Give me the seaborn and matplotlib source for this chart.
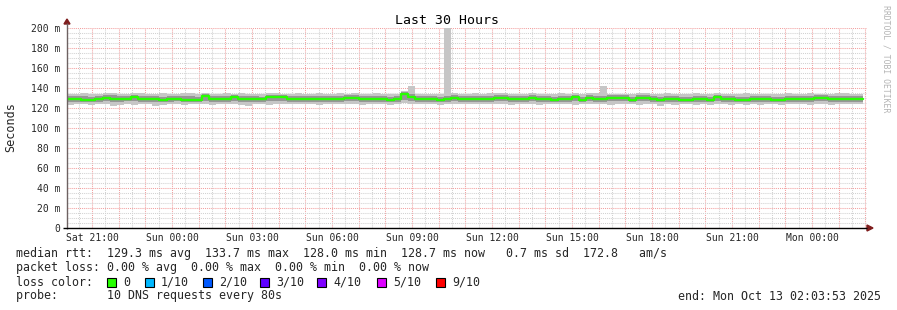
import numpy as np
import pandas as pd
import matplotlib
matplotlib.use("Agg")
import matplotlib.pyplot as plt
import matplotlib.dates as mdates
from matplotlib.ticker import FuncFormatter, MultipleLocator
from matplotlib.patches import Rectangle, Polygon
from datetime import datetime, timedelta
import seaborn as sns

sns.set_style("white")
plt.rcParams["font.family"] = ["DejaVu Sans Mono"]

# ---------------- data ----------------
START = datetime(2025, 10, 11, 20, 3, 53)
END = datetime(2025, 10, 13, 2, 3, 53)
STEP_MIN = 16

median = [
    129.0, 129.0, 128.5, 128.5, 128.8, 130.0, 129.5, 129.5, 129.5, 131.2,
    128.8, 128.8, 128.8, 128.3, 129.5, 129.5, 128.5, 128.5, 128.5, 132.0,
    129.0, 129.0, 129.0, 131.0, 128.8, 128.8, 128.8, 128.8, 131.0, 131.0,
    131.0, 129.5, 129.0, 129.0, 129.0, 129.0, 129.0, 129.0, 129.0, 130.0,
    130.0, 129.5, 129.0, 129.0, 129.0, 128.0, 129.0, 133.7, 131.0, 129.0,
    129.0, 129.0, 128.2, 129.5, 130.5, 129.3, 129.3, 129.3, 129.3, 129.3,
    130.0, 130.0, 129.0, 129.0, 129.0, 130.0, 128.8, 128.8, 128.5, 129.5,
    129.5, 131.0, 128.5, 130.3, 129.0, 129.0, 130.5, 130.5, 130.5, 128.5,
    130.0, 130.0, 129.0, 128.0, 129.0, 129.0, 128.5, 128.5, 129.5, 129.5,
    128.5, 131.0, 129.0, 129.0, 128.5, 128.0, 129.5, 129.5, 129.5, 128.5,
    128.5, 129.0, 129.0, 129.5, 129.5, 130.5, 130.5, 129.5, 129.5, 129.5,
    129.5, 128.7,
]
ping_max = [
    134, 134, 135, 134, 134, 135, 135, 134, 134, 135,
    135, 134, 134, 135, 134, 134, 135, 135, 134, 135,
    134, 134, 135, 134, 135, 134, 134, 134, 135, 135,
    134, 134, 135, 134, 134, 135, 134, 134, 135, 134,
    135, 134, 134, 135, 134, 134, 134, 137, 142, 134,
    134, 134, 134, 205, 135, 134, 134, 135, 134, 135,
    135, 135, 134, 134, 134, 135, 134, 134, 134, 135,
    134, 135, 134, 135, 135, 142, 134, 134, 134, 134,
    135, 135, 134, 134, 135, 134, 134, 134, 135, 134,
    134, 135, 134, 134, 134, 135, 134, 134, 134, 134,
    134, 135, 134, 134, 135, 134, 134, 134, 135, 135,
    134, 134,
]
ping_min = [
    123, 124, 124, 123, 124, 124, 122, 123, 124, 123,
    124, 124, 122, 123, 124, 124, 123, 124, 124, 124,
    123, 124, 124, 124, 123, 122, 124, 124, 123, 124,
    124, 124, 124, 124, 124, 123, 124, 124, 124, 124,
    124, 123, 124, 124, 124, 123, 124, 125, 124, 124,
    124, 124, 123, 124, 124, 124, 124, 124, 124, 124,
    124, 124, 123, 124, 124, 124, 123, 124, 124, 124,
    124, 123, 124, 124, 124, 124, 123, 124, 124, 124,
    123, 124, 124, 122, 124, 123, 124, 124, 123, 124,
    123, 124, 124, 123, 124, 123, 124, 123, 124, 124,
    123, 124, 124, 124, 123, 124, 124, 123, 124, 124,
    124, 124,
]
smoke_hi = [
    132, 132, 132, 131, 132, 133, 133, 132, 132, 133,
    132, 132, 132, 131, 132, 132, 132, 132, 131, 134,
    132, 132, 132, 133, 132, 132, 132, 131, 133, 133,
    133, 132, 132, 132, 132, 132, 132, 132, 132, 133,
    133, 132, 132, 132, 132, 131, 132, 136, 134, 132,
    132, 132, 131, 132, 133, 132, 132, 132, 132, 132,
    133, 133, 132, 132, 132, 133, 132, 132, 131, 132,
    132, 133, 131, 133, 132, 132, 133, 133, 133, 131,
    133, 133, 132, 131, 132, 132, 131, 131, 132, 132,
    131, 133, 132, 132, 131, 131, 132, 132, 132, 131,
    131, 132, 132, 132, 132, 133, 133, 132, 132, 132,
    132, 132,
]
smoke_lo = [
    126, 126, 126, 126, 126, 127, 126, 126, 127, 127,
    126, 126, 126, 126, 126, 127, 126, 126, 126, 127,
    126, 126, 126, 127, 126, 126, 126, 126, 127, 127,
    127, 126, 126, 126, 126, 126, 126, 126, 126, 127,
    127, 126, 126, 126, 126, 126, 126, 128, 127, 126,
    126, 126, 126, 126, 127, 126, 126, 126, 126, 126,
    127, 127, 126, 126, 126, 127, 126, 126, 126, 126,
    126, 127, 126, 127, 126, 126, 127, 127, 127, 126,
    127, 127, 126, 126, 126, 126, 126, 126, 126, 126,
    126, 127, 126, 126, 126, 126, 126, 126, 126, 126,
    126, 126, 126, 126, 126, 127, 127, 126, 126, 126,
    126, 126,
]

rtt_stats = {"avg": 129.3, "max": 133.7, "min": 128.0, "now": 128.7, "sd": 0.7, "am/s": 172.8}
loss_stats = {"avg": 0.00, "max": 0.00, "min": 0.00, "now": 0.00}
loss_labels = ["0", "1/10", "2/10", "3/10", "4/10", "5/10", "9/10"]
loss_colors = ["#26ff00", "#00b8ff", "#0059ff", "#5e00ff", "#7e00ff", "#dd00ff", "#ff0000"]
probe_text = "10 DNS requests every 80s"

# ---------------- figure ----------------
W, H = 897, 310
fig = plt.figure(figsize=(W / 100, H / 100), dpi=100)
fig.patch.set_facecolor("white")
ax = fig.add_axes([67 / W, 1 - 228 / H, 800 / W, 200 / H])
ax.set_facecolor("white")

times = pd.date_range(START, periods=len(median), freq=f"{STEP_MIN}min")
width = STEP_MIN / 1440.0
pmax = np.array(ping_max, float)
pmin = np.array(ping_min, float)
shi = np.array(smoke_hi, float)
slo = np.array(smoke_lo, float)

ax.bar(times, pmax - pmin, bottom=pmin, width=width, align="edge",
       color="#c6c6c6", linewidth=0, zorder=2)
ax.bar(times, shi - slo, bottom=slo, width=width, align="edge",
       color="#969696", linewidth=0, zorder=3)

t_line = pd.Series(list(times) + [times[-1] + timedelta(minutes=STEP_MIN)])
m_line = pd.Series(median + [median[-1]])
sns.lineplot(x=t_line, y=m_line, drawstyle="steps-post", color=loss_colors[0],
             linewidth=1.7, ax=ax, zorder=5, estimator=None)

ax.set_xlim(START, END)
ax.set_ylim(0, 200)
ax.set_xlabel("")
ax.set_ylabel("")

ax.xaxis.set_major_locator(mdates.HourLocator())
ax.xaxis.set_minor_locator(mdates.MinuteLocator(byminute=[30]))


def xfmt(v, pos):
    d = mdates.num2date(v)
    return d.strftime("%a %H:%M") if d.hour % 3 == 0 else ""


ax.xaxis.set_major_formatter(FuncFormatter(xfmt))
ax.yaxis.set_major_locator(MultipleLocator(20))
ax.yaxis.set_minor_locator(MultipleLocator(5))
ax.yaxis.set_major_formatter(FuncFormatter(lambda v, p: "0" if v == 0 else f"{int(v)} m"))

ax.grid(which="major", color="#f2a0a0", linestyle=(0, (1, 1)), linewidth=0.75)
ax.grid(which="minor", color="#d2d2d2", linestyle=(0, (1, 1)), linewidth=0.75)
ax.set_axisbelow(True)
ax.tick_params(which="both", length=0)
ax.tick_params(axis="x", labelsize=7, pad=3.5)
ax.tick_params(axis="y", labelsize=7, pad=5)
for s in ax.spines.values():
    s.set_visible(False)

# ---------------- overlay (pixel coords) ----------------
ov = fig.add_axes([0, 0, 1, 1], zorder=10)
ov.set_xlim(0, W)
ov.set_ylim(H, 0)
ov.axis("off")
ov.patch.set_alpha(0)

ov.plot([67, 67], [229, 23], color="#6e6262", lw=1.0, solid_capstyle="butt")
ov.plot([63, 867], [228, 228], color="black", lw=1.0, solid_capstyle="butt")
ov.add_patch(Polygon([[64, 24], [70, 24], [67, 19]], closed=True, color="#7f1d1d"))
ov.add_patch(Polygon([[867, 225], [867, 231], [873, 228]], closed=True, color="#7f1d1d"))

ov.text(447, 20, "Last 30 Hours", ha="center", va="center", fontsize=9.5, color="black")
ov.text(11, 127, "Seconds", rotation=90, ha="center", va="center", fontsize=8.5)
ov.text(886, 59, "RRDTOOL / TOBI OETIKER", rotation=270, ha="center", va="center",
        fontsize=5.9, color="#b4b4b4")

fs = 8.35
row1 = (f"median rtt:  {rtt_stats['avg']:.1f} ms avg  {rtt_stats['max']:.1f} ms max  "
        f"{rtt_stats['min']:.1f} ms min  {rtt_stats['now']:.1f} ms now   "
        f"{rtt_stats['sd']:.1f} ms sd  {rtt_stats['am/s']:.1f}   am/s")
row2 = (f"packet loss: {loss_stats['avg']:.2f} % avg  {loss_stats['max']:.2f} % max  "
        f"{loss_stats['min']:.2f} % min  {loss_stats['now']:.2f} % now")
ov.text(16, 254, row1, ha="left", va="center", fontsize=fs)
ov.text(16, 268, row2, ha="left", va="center", fontsize=fs)
ov.text(16, 282, "loss color:", ha="left", va="center", fontsize=fs)
box_x = [107, 145, 203, 260, 317, 377, 436]
for bx, lab, col in zip(box_x, loss_labels, loss_colors):
    ov.add_patch(Rectangle((bx, 278), 8.5, 8.5, facecolor=col, edgecolor="black", lw=0.8))
    ov.text(bx + 16, 282, lab, ha="left", va="center", fontsize=fs)
ov.text(16, 296, "probe:       " + probe_text, ha="left", va="center", fontsize=fs)
ov.text(881, 296, "end: Mon Oct 13 02:03:53 2025", ha="right", va="center", fontsize=fs)

fig.savefig("out.png", dpi=100, facecolor="white")
